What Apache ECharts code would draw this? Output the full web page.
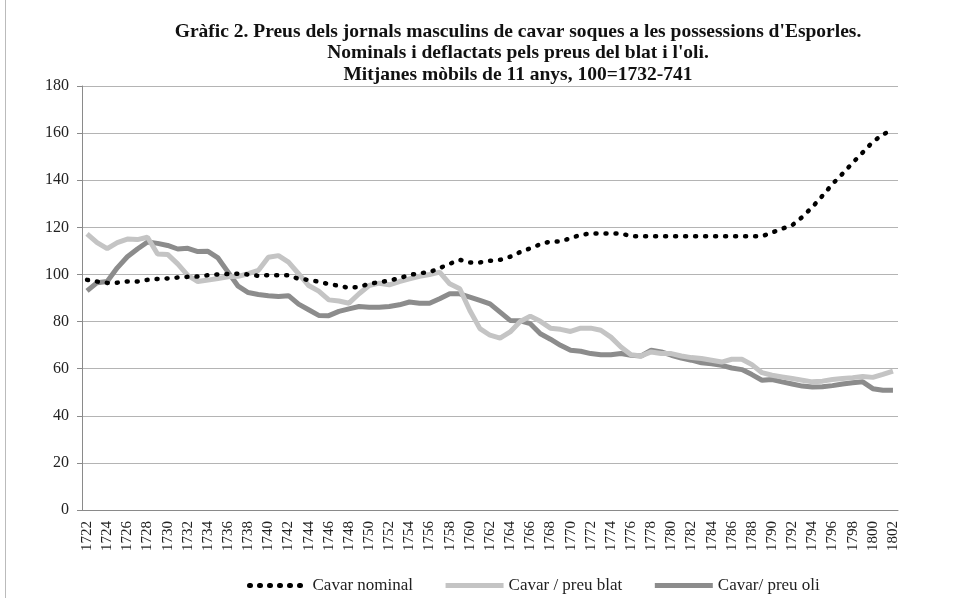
<!DOCTYPE html>
<html>
<head>
<meta charset="utf-8">
<script src="https://cdn.jsdelivr.net/npm/echarts@6/dist/echarts.min.js"></script>
<style>
  html, body { margin: 0; padding: 0; background: #fff; }
  #main { width: 955px; height: 598px; }
</style>
</head>
<body>
<div id="main"></div>
<script>
// anys 1722-1802
var years = [];
for (var y = 1722; y <= 1802; y++) { years.push(String(y)); }

// Cavar nominal
var nominal = [
  97.7, 97.0, 96.4, 96.5, 97.0, 97.0, 97.7, 98.1, 98.3, 98.7,
  99.0, 99.1, 99.7, 100.0, 100.2, 100.3, 100.0, 99.4, 99.7, 99.7,
  99.7, 98.1, 97.7, 96.9, 95.9, 95.2, 94.3, 94.7, 96.0, 96.7,
  97.4, 98.4, 99.8, 100.5, 101.0, 102.7, 104.5, 106.2, 105.1, 105.1,
  105.8, 106.2, 107.5, 109.5, 111.1, 112.8, 114.0, 114.0, 115.4, 116.8,
  117.4, 117.4, 117.4, 117.4, 116.2, 116.2, 116.2, 116.2, 116.2, 116.2,
  116.2, 116.2, 116.2, 116.2, 116.2, 116.2, 116.2, 116.2, 117.8, 119.4,
  120.9, 124.4, 128.6, 133.4, 138.4, 142.8, 147.4, 151.8, 156.3, 159.4,
  161.5
];

// Cavar / preu blat
var blat = [
  117.2, 113.5, 111.0, 113.5, 115.0, 114.8, 115.8, 108.7, 108.5, 104.5,
  99.6, 97.0, 97.6, 98.3, 99.0, 99.2, 100.3, 101.7, 107.3, 108.0,
  105.2, 100.3, 95.3, 92.9, 89.2, 88.7, 87.8, 91.8, 95.3, 96.3,
  95.6, 97.0, 98.1, 99.2, 100.0, 101.0, 96.0, 93.9, 84.7, 77.0,
  74.2, 73.0, 75.6, 80.0, 82.3, 80.1, 77.2, 76.7, 75.8, 77.2,
  77.2, 76.3, 73.4, 69.2, 65.9, 65.4, 67.1, 66.4, 66.4, 65.4,
  64.7, 64.3, 63.6, 62.8, 64.0, 64.0, 61.7, 58.3, 57.2, 56.5,
  55.8, 55.1, 54.4, 54.7, 55.4, 55.8, 56.2, 56.7, 56.3, 57.6,
  59.0
];

// Cavar/ preu oli
var oli = [
  93.0, 96.5, 97.0, 102.8, 107.5, 110.8, 113.8, 113.2, 112.3, 110.8,
  111.1, 109.7, 109.8, 107.0, 101.0, 95.0, 92.3, 91.5, 91.0, 90.6,
  91.0, 87.4, 85.0, 82.6, 82.5, 84.3, 85.4, 86.4, 86.1, 86.1,
  86.4, 87.1, 88.3, 87.8, 87.8, 89.7, 91.8, 91.8, 90.4, 89.0,
  87.5, 84.0, 80.5, 80.3, 79.1, 74.8, 72.5, 69.9, 67.8, 67.4,
  66.4, 65.9, 65.9, 66.4, 65.7, 65.4, 67.8, 67.1, 65.7, 64.5,
  63.6, 62.5, 62.1, 61.4, 60.3, 59.6, 57.5, 55.1, 55.4, 54.4,
  53.5, 52.6, 52.2, 52.3, 52.8, 53.5, 54.0, 54.4, 51.5, 50.8,
  50.8
];

var serif = '"Liberation Serif", "DejaVu Serif", serif';

var myChart = echarts.init(document.getElementById('main'));
var option = {
  backgroundColor: '#fff',
  animation: false,
  title: {
    text: "Gràfic 2. Preus dels jornals masculins de cavar soques a les possessions d'Esporles.\n" +
          "Nominals i deflactats pels preus del blat i l'oli.\n" +
          "Mitjanes mòbils de 11 anys, 100=1732-741",
    left: 513,
    top: 16,
    textAlign: 'center',
    textStyle: {
      fontFamily: serif,
      fontSize: 19.5,
      fontWeight: 'bold',
      color: '#111',
      lineHeight: 21.5
    }
  },
  legend: {
    left: 242,
    top: 572,
    itemWidth: 58,
    itemHeight: 14,
    itemGap: 30,
    itemStyle: { opacity: 0 },
    lineStyle: { width: 5 },
    textStyle: { fontFamily: serif, fontSize: 17, color: '#222' },
    data: ['Cavar nominal', 'Cavar / preu blat', 'Cavar/ preu oli']
  },
  grid: {
    left: 82,
    right: 57,
    top: 86,
    bottom: 88
  },
  xAxis: {
    type: 'category',
    data: years,
    boundaryGap: true,
    axisLine: { lineStyle: { color: '#8a8a8a', width: 1 } },
    axisTick: {
      alignWithLabel: false,
      interval: 0,
      length: 5,
      lineStyle: { color: '#8a8a8a' }
    },
    axisLabel: {
      interval: 1,
      rotate: 90,
      margin: 11,
      fontFamily: serif,
      fontSize: 15,
      color: '#222'
    }
  },
  yAxis: {
    type: 'value',
    min: 0,
    max: 180,
    interval: 20,
    axisLine: { show: true, lineStyle: { color: '#8a8a8a', width: 1 } },
    axisTick: { show: true, length: 5, lineStyle: { color: '#8a8a8a' } },
    axisLabel: {
      margin: 13,
      fontFamily: serif,
      fontSize: 16,
      color: '#222'
    },
    splitLine: { lineStyle: { color: '#b4b4b4', width: 1 } }
  },
  series: [
    {
      name: 'Cavar nominal',
      type: 'line',
      data: nominal,
      symbol: 'none',
      z: 3,
      lineStyle: { color: '#000', width: 4.5, type: [1, 9], cap: 'round' },
      itemStyle: { color: '#000' }
    },
    {
      name: 'Cavar / preu blat',
      type: 'line',
      data: blat,
      symbol: 'none',
      z: 2,
      lineStyle: { color: '#c4c4c4', width: 5 },
      itemStyle: { color: '#c4c4c4' }
    },
    {
      name: 'Cavar/ preu oli',
      type: 'line',
      data: oli,
      symbol: 'none',
      z: 1,
      lineStyle: { color: '#8c8c8c', width: 5 },
      itemStyle: { color: '#8c8c8c' }
    }
  ],
  graphic: [
    {
      type: 'line',
      shape: { x1: 5.5, y1: 0, x2: 5.5, y2: 598 },
      style: { stroke: '#bbb', lineWidth: 1 }
    }
  ]
};
myChart.setOption(option);
</script>
</body>
</html>
